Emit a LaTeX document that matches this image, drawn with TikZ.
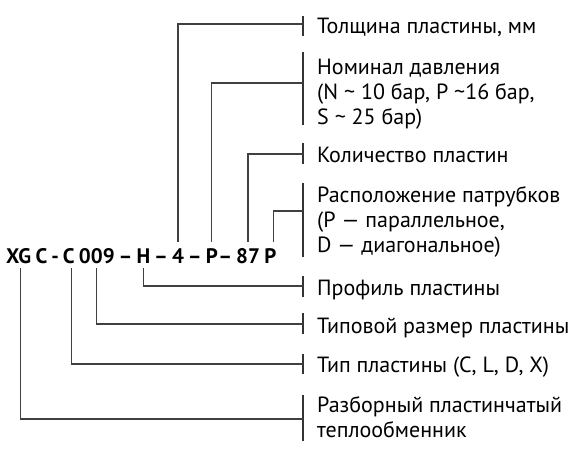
\documentclass[tikz,border=0pt]{standalone}
\usepackage{fontspec}
\setmainfont{PT Sans}
\usetikzlibrary{positioning,calc}

\newcommand{\codesp}{\hspace{3.6pt}}

\begin{document}
\begin{tikzpicture}[
    x=1pt, y=-1pt,
    codePart/.style={
        font=\fontsize{21pt}{26pt}\selectfont\bfseries,
        anchor=base west,
        inner xsep=0pt,
        inner ysep=5pt,
        text height=16pt,
        text depth=0pt
    },
    partLabel/.style={
        font=\fontsize{22pt}{25pt}\selectfont,
        anchor=base west,
        align=left,
        inner sep=0pt
    },
    tickBar/.style={
        line width=1.4pt,
        draw=black!80
    },
    leadLine/.style={
        line width=1.2pt,
        draw=black!75
    }
]
\useasboundingbox (0,0) rectangle (579,461);

% ==================== CODE STRING ====================
\node[codePart] (codeXG) at (6,263) {XG};
\node[codePart] (gapA) at (codeXG.base east) {\codesp\mbox{}};
\node[codePart] (codeC) at (gapA.base east) {C};
\node[codePart] (gapB) at (codeC.base east) {\codesp-\codesp\mbox{}};
\node[codePart] (codeCC) at (gapB.base east) {C};
\node[codePart] (gapC) at (codeCC.base east) {\codesp\mbox{}};
\node[codePart] (code009) at (gapC.base east) {009};
\node[codePart] (gapD) at (code009.base east) {\codesp–\codesp\mbox{}};
\node[codePart] (codeH) at (gapD.base east) {H};
\node[codePart] (gapE) at (codeH.base east) {\codesp–\codesp\mbox{}};
\node[codePart] (codeFour) at (gapE.base east) {4};
\node[codePart] (gapF) at (codeFour.base east) {\codesp–\codesp\mbox{}};
\node[codePart] (codeP) at (gapF.base east) {P};
\node[codePart] (gapG) at (codeP.base east) {–\codesp\mbox{}};
\node[codePart] (code87) at (gapG.base east) {87};
\node[codePart] (gapH) at (code87.base east) {\codesp\mbox{}};
\node[codePart] (codePP) at (gapH.base east) {P};

% ==================== LABELS ====================
% (multi-line labels sit on the baseline of their last line)
\node[partLabel] (lblThick) at (317,33) {Толщина пластины, мм};
\node[partLabel] (lblPress) at (317,124) {Номинал давления\\(N \~{} 10 бар, P \~{}16 бар,\\S \~{} 25 бар)};
\node[partLabel] (lblCount) at (317,162) {Количество пластин};
\node[partLabel] (lblPorts) at (317,252) {Расположение патрубков\\(P — параллельное,\\D — диагональное)};
\node[partLabel] (lblProfile) at (317,295) {Профиль пластины};
\node[partLabel] (lblSize) at (317,333) {Типовой размер пластины};
\node[partLabel] (lblType) at (317,372) {Тип пластины (C, L, D, X)};
\node[partLabel] (lblHex) at (317,437) {Разборный пластинчатый\\теплообменник};

% ==================== BARS ====================
\draw[tickBar] ([shift={(-14pt,17pt)}]lblThick.base west) -- ([shift={(-14pt,-3pt)}]lblThick.base west);
\draw[tickBar] ([shift={(-14pt,72pt)}]lblPress.base west) -- ([shift={(-14pt,-1pt)}]lblPress.base west);
\draw[tickBar] ([shift={(-14pt,19pt)}]lblCount.base west) -- ([shift={(-14pt,-2pt)}]lblCount.base west);
\draw[tickBar] ([shift={(-14pt,69pt)}]lblPorts.base west) -- ([shift={(-14pt,-5pt)}]lblPorts.base west);
\draw[tickBar] ([shift={(-14pt,19pt)}]lblProfile.base west) -- ([shift={(-14pt,-2pt)}]lblProfile.base west);
\draw[tickBar] ([shift={(-14pt,20pt)}]lblSize.base west) -- ([shift={(-14pt,-1pt)}]lblSize.base west);
\draw[tickBar] ([shift={(-14pt,18pt)}]lblType.base west) -- ([shift={(-14pt,-2pt)}]lblType.base west);
\draw[tickBar] ([shift={(-14pt,42pt)}]lblHex.base west) -- ([shift={(-14pt,-4pt)}]lblHex.base west);

% ==================== LEADERS ====================
\draw[leadLine] (codeFour.north) |- ([shift={(-14pt,9pt)}]lblThick.base west);
\draw[leadLine] (codeP.north) |- ([shift={(-14pt,41pt)}]lblPress.base west);
\draw[leadLine] (code87.north) |- ([shift={(-14pt,8pt)}]lblCount.base west);
\draw[leadLine] ([xshift=3pt]codePP.north) |- ([shift={(-14pt,41pt)}]lblPorts.base west);
\draw[leadLine] (codeH.south) |- ([shift={(-14pt,9pt)}]lblProfile.base west);
\draw[leadLine] (code009.south) |- ([shift={(-14pt,9pt)}]lblSize.base west);
\draw[leadLine] ([xshift=3pt]codeCC.south) |- ([shift={(-14pt,8pt)}]lblType.base west);
\draw[leadLine] ([xshift=2pt]codeXG.south) |- ([shift={(-14pt,18pt)}]lblHex.base west);

\end{tikzpicture}
\end{document}
